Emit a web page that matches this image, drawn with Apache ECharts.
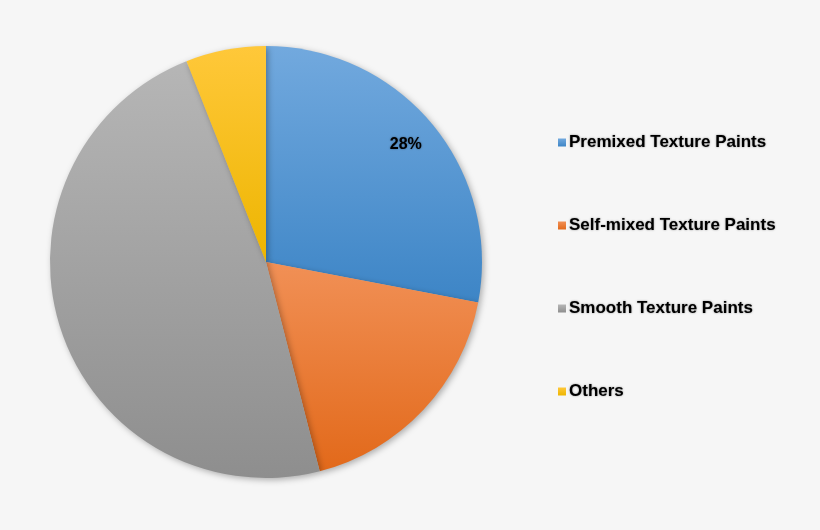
<!DOCTYPE html>
<html>
<head>
<meta charset="utf-8">
<script src="https://cdn.jsdelivr.net/npm/echarts@6/dist/echarts.min.js"></script>
<style>
html, body { margin: 0; padding: 0; background: #f6f6f6; }
#main { width: 820px; height: 530px; }
</style>
</head>
<body>
<div id="main"></div>
<script>
var categories = ['Premixed Texture Paints', 'Self-mixed Texture Paints', 'Smooth Texture Paints', 'Others'];
var shares = [28, 18, 48, 6];
var labelShown = [true, false, false, false];
var colorsTop = ['#72a9de', '#f19056', '#b6b6b6', '#ffc83a'];
var colorsBottom = ['#3d85c6', '#e2691a', '#8e8e8e', '#edb500'];

var myChart = echarts.init(document.getElementById('main'));

function grad(i) {
    return new echarts.graphic.LinearGradient(0, 0, 0, 1, [
        { offset: 0, color: colorsTop[i] },
        { offset: 1, color: colorsBottom[i] }
    ]);
}

var pieData = categories.map(function (name, i) {
    return { name: name, value: shares[i], itemStyle: { color: grad(i) } };
});
// label ring: same values, only to place the % text further out
var labelData = categories.map(function (name, i) {
    return {
        name: name, value: shares[i],
        label: { show: labelShown[i] }
    };
});

var option = {
    backgroundColor: '#f6f6f6',
    animation: false,
    legend: {
        orient: 'vertical',
        left: 553,
        top: 129,
        icon: 'rect',
        itemWidth: 8,
        itemHeight: 8,
        itemGap: 66,
        data: categories,
        textStyle: {
            fontFamily: 'Liberation Sans, sans-serif',
            fontWeight: 'bold',
            fontSize: 17,
            lineHeight: 17,
            color: '#000',
            textShadowColor: 'rgba(0,0,0,0.45)',
            textShadowBlur: 2,
            padding: [0, 0, 0, -2]
        }
    },
    series: [
        {
            type: 'pie',
            center: [266, 262],
            radius: [0, 216],
            startAngle: 90,
            clockwise: true,
            data: pieData,
            label: { show: false },
            labelLine: { show: false },
            emphasis: { disabled: true },
            itemStyle: {
                shadowBlur: 6,
                shadowOffsetX: 2,
                shadowOffsetY: 2,
                shadowColor: 'rgba(0,0,0,0.3)'
            }
        },
        {
            type: 'pie',
            silent: true,
            center: [266, 262],
            radius: [146, 216],
            startAngle: 90,
            clockwise: true,
            data: labelData,
            itemStyle: { color: 'rgba(0,0,0,0)' },
            labelLine: { show: false },
            label: {
                position: 'inside',
                formatter: '{c}%',
                fontFamily: 'Liberation Sans, sans-serif',
                fontWeight: 'bold',
                fontSize: 16,
                padding: [4, 4, 0, 0],
                color: '#000',
                textShadowColor: 'rgba(0,0,0,0.45)',
                textShadowBlur: 2
            }
        }
    ]
};
myChart.setOption(option);
</script>
</body>
</html>
